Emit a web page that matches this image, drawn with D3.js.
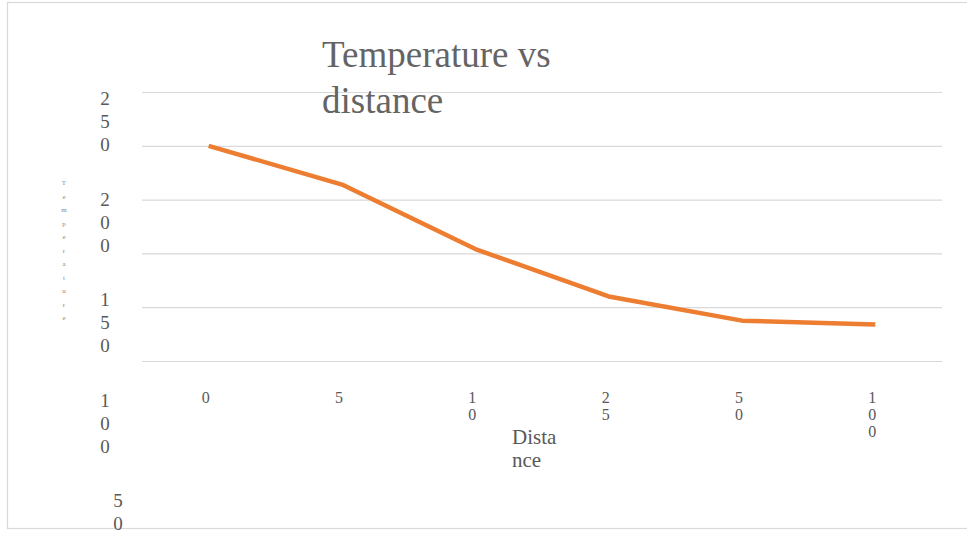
<!DOCTYPE html>
<html>
<head>
<meta charset="utf-8">
<script src="https://d3js.org/d3.v7.min.js"></script>
<style>
  body { margin: 0; background: #fff; }
  text { font-family: "Liberation Serif", "Times New Roman", serif; fill: #595959; }
</style>
</head>
<body>
<script>
// chart data
var distances = ["0", "5", "10", "25", "50", "100"];
var temperatures = [200, 164, 104, 60, 37.5, 34];
var gridTicks = [0, 50, 100, 150, 200, 250];
var yLabels = ["250", "200", "150", "100", "50"];
var titleLines = ["Temperature vs", "distance"];
var xTitleLines = ["Dista", "nce"];
var yTitle = "Temperature";

var width = 967, height = 533;

var svg = d3.select("body")
  .append("svg")
  .attr("width", width)
  .attr("height", height);

// outer chart border
svg.append("rect")
  .attr("x", 7.5).attr("y", 2.5)
  .attr("width", 980).attr("height", 526)
  .attr("fill", "none")
  .attr("stroke", "#d9d9d9")
  .attr("stroke-width", 1.2);

var x = d3.scaleBand()
  .domain(distances)
  .range([142, 942]);

var y = d3.scaleLinear()
  .domain([0, 250])
  .range([361, 92]);

// gridlines
svg.append("g")
  .attr("class", "grid")
  .attr("transform", "translate(142,0)")
  .call(d3.axisLeft(y).tickValues(gridTicks).tickSize(-800).tickFormat(""))
  .call(function(g) {
    g.select(".domain").remove();
    g.selectAll("line").attr("stroke", "#d9d9d9").attr("stroke-width", 1.2);
  });

// y tick labels: each digit wrapped onto its own line
var labelY = d3.scaleLinear().domain([250, 50]).range([105, 507]);
yLabels.forEach(function(lab) {
  var lx = lab.length === 3 ? 105 : 118;
  var t = svg.append("text")
    .attr("text-anchor", "middle")
    .attr("font-size", 19)
    .attr("x", lx)
    .attr("y", labelY(+lab));
  lab.split("").forEach(function(ch, i) {
    t.append("tspan")
      .attr("x", lx)
      .attr("dy", i === 0 ? 0 : 23)
      .text(ch);
  });
});

// x tick labels
distances.forEach(function(lab) {
  var cx = x(lab) + x.bandwidth() / 2 - 3;
  var t = svg.append("text")
    .attr("text-anchor", "middle")
    .attr("font-size", 16)
    .attr("x", cx)
    .attr("y", 403);
  lab.split("").forEach(function(ch, i) {
    t.append("tspan")
      .attr("x", cx)
      .attr("dy", i === 0 ? 0 : 17)
      .text(ch);
  });
});

// x axis title
svg.append("text")
  .attr("font-size", 21)
  .attr("x", 512)
  .attr("y", 444)
  .selectAll("tspan")
  .data(xTitleLines)
  .enter().append("tspan")
  .attr("x", 512)
  .attr("dy", function(d, i) { return i === 0 ? 0 : 23; })
  .text(function(d) { return d; });

// y axis title: tiny letters stacked one per line
yTitle.split("").forEach(function(ch, i) {
  svg.append("text")
    .attr("font-size", 7)
    .attr("text-anchor", "middle")
    .style("fill", "#8a8a8a")
    .attr("x", 64)
    .attr("y", 185 + i * 13.5)
    .text(ch);
});

// chart title
svg.append("text")
  .attr("font-size", 37)
  .attr("x", 322)
  .attr("y", 67)
  .style("fill", "#646464")
  .selectAll("tspan")
  .data(titleLines)
  .enter().append("tspan")
  .attr("x", 322)
  .attr("dy", function(d, i) { return i === 0 ? 0 : 46; })
  .text(function(d) { return d; });

// line
var line = d3.line()
  .x(function(d, i) { return x(distances[i]) + x.bandwidth() / 2; })
  .y(function(d) { return y(d); });

svg.append("path")
  .datum(temperatures)
  .attr("d", line)
  .attr("fill", "none")
  .attr("stroke", "#ed7d31")
  .attr("stroke-width", 4.5)
  .attr("stroke-linejoin", "round");
</script>
</body>
</html>
